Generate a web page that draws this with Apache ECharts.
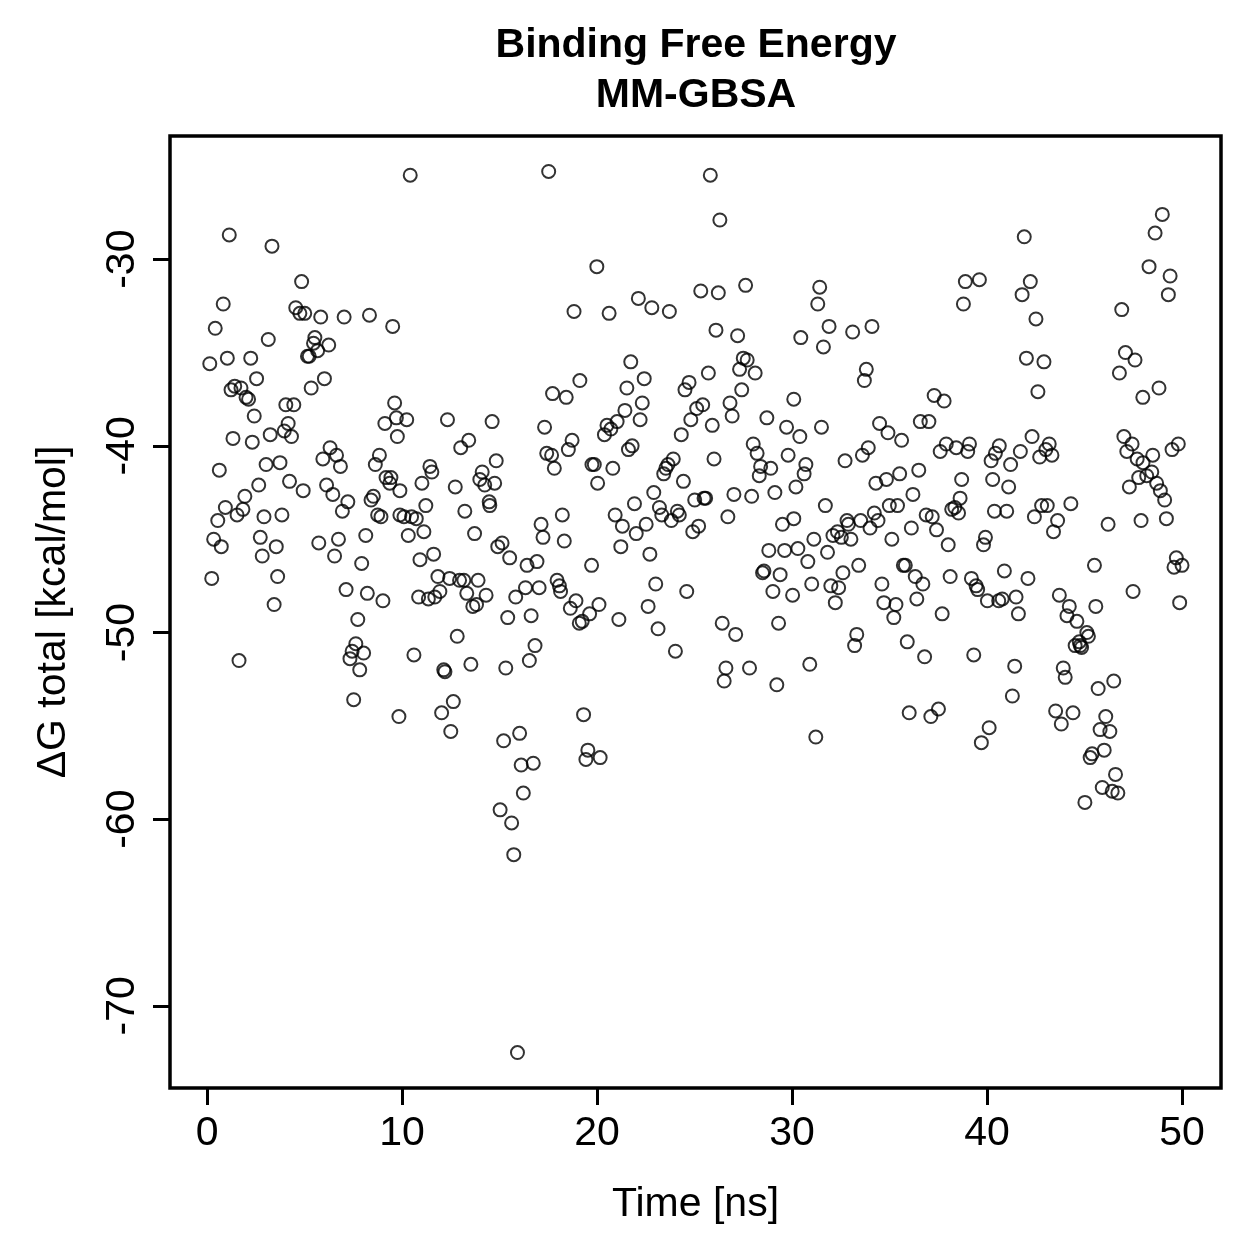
<!DOCTYPE html>
<html>
<head>
<meta charset="utf-8">
<script src="https://cdn.jsdelivr.net/npm/echarts@6/dist/echarts.min.js"></script>
<style>
  html, body { margin: 0; padding: 0; background: #fff; }
  #chart { width: 1259px; height: 1259px; }
</style>
</head>
<body>
<div id="chart"></div>
<script>
// [time (ns), dG total (kcal/mol)], split by 10 ns window
const window0to10 = [
  [1.14,-28.7],[3.33,-29.3],[4.85,-31.2],[0.83,-32.4],[4.55,-32.6],[4.76,-32.9],[5.01,-32.9],[5.83,-33.1],
  [7.03,-33.1],[8.33,-33.0],[9.52,-33.6],[0.42,-33.7],[3.14,-34.3],[5.53,-34.2],[5.46,-34.5],[5.67,-34.9],
  [6.24,-34.6],[5.15,-35.2],[5.24,-35.2],[0.14,-35.6],[1.04,-35.3],[2.24,-35.3],[2.54,-36.4],[6.02,-36.4],
  [5.34,-36.9],[1.42,-36.8],[1.23,-37.0],[1.74,-36.9],[2.0,-37.4],[2.13,-37.5],[2.42,-38.4],[4.04,-37.8],
  [4.45,-37.8],[9.62,-37.7],[9.12,-38.8],[9.71,-38.5],[4.16,-38.8],[3.96,-39.2],[4.33,-39.5],[9.76,-39.5],
  [1.33,-39.6],[2.32,-39.8],[3.24,-39.4],[6.31,-40.1],[6.64,-40.5],[5.94,-40.7],[6.84,-41.1],[8.84,-40.5],
  [8.63,-41.0],[0.63,-41.3],[3.03,-41.0],[3.74,-40.9],[9.18,-41.7],[9.43,-41.7],[9.37,-42.0],[9.89,-42.4],
  [2.65,-42.1],[4.23,-41.9],[4.93,-42.4],[6.13,-42.1],[6.45,-42.6],[1.94,-42.7],[7.22,-43.0],[6.94,-43.5],
  [8.53,-42.7],[8.41,-42.9],[8.75,-43.7],[8.92,-43.8],[9.89,-43.7],[0.94,-43.3],[1.84,-43.4],[1.54,-43.7],
  [0.55,-44.0],[2.92,-43.8],[3.84,-43.7],[0.34,-45.0],[0.73,-45.4],[2.73,-44.9],[2.83,-45.9],[3.55,-45.4],
  [5.73,-45.2],[6.74,-45.0],[6.54,-45.9],[8.14,-44.8],[7.93,-46.3],[0.24,-47.1],[3.62,-47.0],[7.13,-47.7],
  [8.22,-47.9],[9.02,-48.3],[3.44,-48.5],[7.73,-49.3],[7.63,-50.6],[7.44,-51.0],[7.33,-51.4],[8.03,-51.1],
  [7.83,-52.0],[1.64,-51.5],[7.52,-53.6],[9.84,-54.5]
];
const window10to20 = [
  [10.42,-25.5],[17.52,-25.3],[19.99,-30.4],[18.82,-32.8],[19.12,-36.5],[17.72,-37.2],[18.42,-37.4],[10.24,-38.6],
  [12.33,-38.6],[14.62,-38.7],[17.31,-39.0],[13.42,-39.7],[13.01,-40.1],[18.72,-39.7],[18.53,-40.2],[17.42,-40.4],
  [17.67,-40.5],[17.81,-41.2],[19.74,-41.0],[19.86,-41.0],[11.43,-41.1],[11.53,-41.4],[14.83,-40.8],[14.11,-41.4],
  [13.99,-41.8],[14.24,-42.1],[14.75,-42.0],[11.02,-42.0],[12.73,-42.2],[14.47,-43.0],[14.5,-43.2],[11.22,-43.2],
  [13.22,-43.5],[10.1,-43.8],[10.49,-43.8],[10.73,-43.9],[10.32,-44.8],[11.12,-44.6],[13.72,-44.7],[17.13,-44.2],
  [17.23,-44.9],[18.22,-43.7],[18.32,-45.1],[15.13,-45.2],[14.91,-45.4],[15.52,-46.0],[10.92,-46.1],[11.62,-45.8],
  [19.72,-46.4],[16.41,-46.4],[16.92,-46.2],[11.84,-47.0],[12.44,-47.1],[12.95,-47.2],[13.17,-47.2],[13.9,-47.2],
  [17.95,-47.2],[18.07,-47.5],[18.13,-47.8],[16.33,-47.6],[17.03,-47.6],[10.85,-48.1],[11.35,-48.2],[11.68,-48.1],
  [11.94,-47.8],[13.32,-47.9],[14.31,-48.0],[15.83,-48.1],[18.92,-48.3],[13.63,-48.6],[13.82,-48.5],[15.42,-49.2],
  [16.62,-49.1],[18.63,-48.7],[19.09,-49.5],[19.24,-49.4],[19.62,-49.0],[12.83,-50.2],[16.82,-50.7],[16.53,-51.5],
  [10.61,-51.2],[12.14,-52.0],[12.2,-52.1],[13.53,-51.7],[15.32,-51.9],[12.63,-53.7],[12.03,-54.3],[12.5,-55.3],
  [19.31,-54.4],[15.21,-55.8],[16.03,-55.4],[16.11,-57.1],[16.73,-57.0],[19.53,-56.3],[19.43,-56.8],[16.22,-58.6],
  [15.03,-59.5],[15.62,-60.2],[15.73,-61.9],[15.92,-72.5]
];
const window20to30 = [
  [20.1,-48.5],[20.16,-56.7],[20.03,-42.0],[25.81,-25.5],[26.3,-27.9],[22.12,-32.1],[22.81,-32.6],[23.71,-32.8],
  [20.62,-32.9],[25.32,-31.7],[26.22,-31.8],[27.62,-31.4],[26.1,-33.8],[27.21,-34.1],[21.73,-35.5],[22.42,-36.4],
  [21.53,-36.9],[27.5,-35.3],[27.7,-35.4],[27.31,-35.9],[28.11,-36.1],[27.42,-37.0],[24.72,-36.6],[24.51,-37.0],
  [25.71,-36.1],[22.32,-37.7],[22.21,-38.6],[21.43,-38.1],[21.03,-38.7],[20.51,-38.9],[20.71,-39.1],[20.38,-39.4],
  [25.42,-37.8],[25.11,-38.0],[24.81,-38.6],[26.82,-37.7],[26.93,-38.4],[28.71,-38.5],[29.72,-39.0],[25.91,-38.9],
  [24.32,-39.4],[21.8,-40.0],[21.61,-40.2],[28.01,-39.9],[28.21,-40.4],[28.39,-41.1],[28.91,-41.2],[28.32,-41.6],
  [29.8,-40.5],[20.81,-41.2],[23.91,-40.7],[23.64,-41.0],[23.53,-41.2],[23.42,-41.5],[24.43,-41.9],[26.0,-40.7],
  [22.91,-42.5],[29.12,-42.5],[27.02,-42.6],[27.93,-42.7],[25.57,-42.8],[25.49,-42.8],[25.01,-42.9],[21.92,-43.1],
  [23.2,-43.3],[23.32,-43.7],[24.12,-43.5],[24.22,-43.7],[23.81,-44.0],[20.93,-43.7],[21.3,-44.3],[26.71,-43.8],
  [29.51,-44.2],[22.52,-44.2],[22.01,-44.7],[25.21,-44.3],[24.91,-44.6],[21.22,-45.4],[22.71,-45.8],[28.81,-45.6],
  [29.62,-45.6],[28.56,-46.7],[28.49,-46.8],[29.39,-46.9],[23.01,-47.4],[24.6,-47.8],[29.02,-47.8],[22.62,-48.6],
  [21.12,-49.3],[23.13,-49.8],[24.02,-51.0],[26.42,-49.5],[27.11,-50.1],[29.31,-49.5],[26.61,-51.9],[26.52,-52.6],
  [27.82,-51.9],[29.22,-52.8]
];
const window30to40 = [
  [30.45,-34.2],[30.09,-37.5],[30.4,-39.5],[30.62,-41.5],[30.2,-42.2],[30.09,-43.9],[30.3,-45.5],[30.03,-48.0],
  [31.42,-31.5],[31.32,-32.4],[38.89,-31.2],[39.61,-31.1],[38.79,-32.4],[31.9,-33.6],[33.11,-33.9],[34.1,-33.6],
  [31.61,-34.7],[33.81,-35.9],[33.71,-36.5],[37.29,-37.3],[37.8,-37.6],[31.51,-39.0],[34.49,-38.8],[34.92,-39.3],
  [35.62,-39.7],[36.58,-38.7],[37.02,-38.7],[32.72,-40.8],[33.91,-40.1],[33.61,-40.5],[37.91,-39.9],[37.6,-40.3],
  [38.42,-40.1],[39.1,-39.9],[39.01,-40.3],[30.71,-41.0],[35.52,-41.5],[34.84,-41.8],[34.3,-42.0],[36.5,-41.3],
  [38.7,-41.8],[31.71,-43.2],[36.2,-42.6],[34.99,-43.2],[35.41,-43.2],[38.62,-42.8],[38.19,-43.4],[38.35,-43.3],
  [38.54,-43.6],[36.88,-43.7],[37.19,-43.8],[37.41,-44.5],[32.82,-44.0],[32.89,-44.2],[33.52,-44.0],[34.0,-44.4],
  [34.22,-43.6],[34.41,-44.0],[32.1,-44.8],[32.33,-44.6],[32.53,-44.9],[33.02,-45.0],[31.12,-45.0],[36.12,-44.4],
  [35.12,-45.0],[38.01,-45.3],[39.92,-44.9],[39.82,-45.3],[31.82,-45.7],[30.81,-46.2],[33.42,-46.4],[32.61,-46.8],
  [35.71,-46.4],[35.81,-46.4],[36.32,-47.0],[36.71,-47.4],[38.11,-47.0],[39.2,-47.1],[39.44,-47.5],[39.52,-47.7],
  [31.01,-47.4],[31.99,-47.5],[32.39,-47.6],[34.61,-47.4],[32.22,-48.4],[34.71,-48.4],[35.33,-48.5],[36.4,-48.2],
  [35.22,-49.2],[37.7,-49.0],[33.32,-50.1],[33.21,-50.7],[35.91,-50.5],[36.8,-51.3],[39.32,-51.2],[30.91,-51.7],
  [36.01,-54.3],[37.51,-54.1],[37.12,-54.5],[39.71,-55.9],[31.22,-55.6]
];
const window40to50 = [
  [40.63,-40.0],[40.43,-40.4],[40.21,-40.8],[40.29,-41.8],[40.38,-43.5],[40.02,-48.3],[40.6,-48.3],[40.78,-48.2],
  [40.11,-55.1],[41.91,-28.8],[42.22,-31.2],[41.8,-31.9],[42.51,-33.2],[42.02,-35.3],[42.92,-35.5],[42.61,-37.1],
  [48.99,-27.6],[48.62,-28.6],[48.31,-30.4],[49.39,-30.9],[49.3,-31.9],[46.91,-32.7],[47.1,-35.0],[47.59,-35.4],
  [46.79,-36.1],[48.82,-36.9],[47.99,-37.4],[42.31,-39.5],[41.71,-40.3],[43.19,-39.9],[43.02,-40.2],[42.7,-40.6],
  [43.33,-40.5],[41.21,-41.0],[41.11,-42.2],[41.01,-43.5],[42.8,-43.2],[43.09,-43.2],[44.3,-43.1],[42.43,-43.8],
  [43.62,-44.0],[43.41,-44.6],[47.02,-39.5],[47.44,-39.9],[47.17,-40.3],[47.7,-40.7],[48.0,-40.9],[48.5,-40.5],
  [48.45,-41.4],[48.19,-41.6],[47.78,-41.7],[47.3,-42.2],[48.7,-42.0],[48.89,-42.4],[49.11,-42.9],[49.81,-39.9],
  [49.49,-40.2],[46.21,-44.2],[47.9,-44.0],[49.2,-43.9],[49.71,-46.0],[49.59,-46.5],[50.0,-46.4],[45.51,-46.4],
  [40.89,-46.7],[42.1,-47.1],[47.49,-47.8],[43.71,-48.0],[41.49,-48.1],[45.58,-48.6],[49.88,-48.4],[41.61,-49.0],
  [44.22,-48.6],[44.1,-49.1],[44.61,-49.4],[45.12,-50.0],[45.2,-50.2],[44.52,-50.7],[44.73,-50.5],[44.85,-50.8],
  [44.78,-50.7],[41.42,-51.8],[43.91,-51.9],[44.01,-52.4],[45.7,-53.0],[46.5,-52.6],[41.3,-53.4],[43.52,-54.2],
  [44.41,-54.3],[43.81,-54.9],[46.09,-54.5],[45.8,-55.2],[46.3,-55.3],[45.39,-56.5],[45.29,-56.7],[46.01,-56.3],
  [46.59,-57.6],[45.91,-58.3],[46.42,-58.5],[46.71,-58.6],[45.02,-59.1]
];

const xTicks = [0, 10, 20, 30, 40, 50];
const yTicks = [-70, -60, -50, -40, -30];

const allPoints = window0to10.concat(window10to20, window20to30, window30to40, window40to50);

const font = 'Liberation Sans, Arial, Helvetica, sans-serif';
const chart = echarts.init(document.getElementById('chart'), null, { renderer: 'canvas' });

const option = {
  animation: false,
  backgroundColor: '#fff',
  textStyle: { fontFamily: font, color: '#000' },
  graphic: [
    {
      type: 'text',
      x: 696,
      y: 46,
      style: { text: 'Binding Free Energy', font: 'bold 41px ' + font, fill: '#000', align: 'center', verticalAlign: 'middle' }
    },
    {
      type: 'text',
      x: 696,
      y: 96,
      style: { text: 'MM-GBSA', font: 'bold 41px ' + font, fill: '#000', align: 'center', verticalAlign: 'middle' }
    }
  ],
  grid: {
    left: 170,
    right: 38,
    top: 136,
    bottom: 171,
    show: true,
    borderColor: '#000',
    borderWidth: 3.5,
    backgroundColor: 'transparent'
  },
  xAxis: {
    type: 'value',
    min: -1.9,
    max: 52,
    name: 'Time [ns]',
    nameLocation: 'middle',
    nameGap: 96,
    nameTextStyle: { fontSize: 41, fontFamily: font, color: '#000' },
    axisLine: { show: false, onZero: false },
    splitLine: { show: false },
    axisTick: { show: true, length: 17, customValues: xTicks, lineStyle: { color: '#000', width: 3 } },
    axisLabel: { customValues: xTicks, fontSize: 41, fontFamily: font, color: '#000', margin: 25 }
  },
  yAxis: {
    type: 'value',
    min: -74.4,
    max: -23.4,
    name: 'ΔG total [kcal/mol]',
    nameLocation: 'middle',
    nameGap: 96,
    nameTextStyle: { fontSize: 41, fontFamily: font, color: '#000' },
    axisLine: { show: false, onZero: false },
    splitLine: { show: false },
    axisTick: { show: true, length: 17, customValues: yTicks, lineStyle: { color: '#000', width: 3 } },
    axisLabel: { customValues: yTicks, rotate: 90, fontSize: 41, fontFamily: font, color: '#000', margin: 27 }
  },
  series: [
    {
      type: 'scatter',
      data: allPoints,
      symbol: 'circle',
      symbolSize: 13,
      itemStyle: { color: 'transparent', borderColor: '#000', borderWidth: 2 },
      emphasis: { disabled: true }
    }
  ]
};

chart.setOption(option);
</script>
</body>
</html>
